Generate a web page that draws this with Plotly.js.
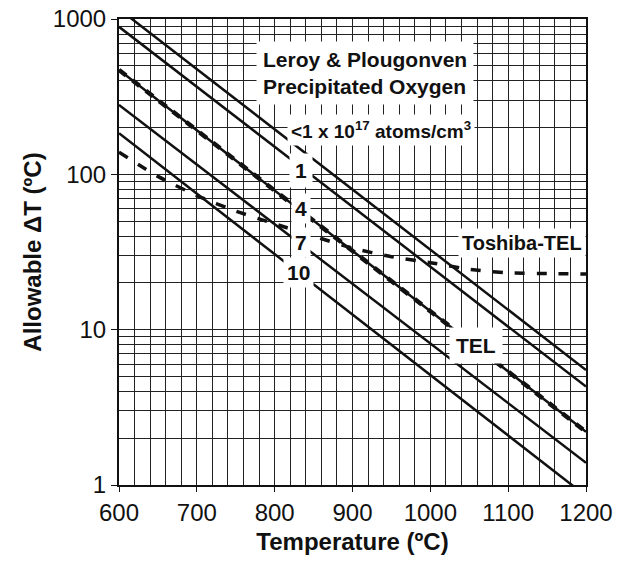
<!DOCTYPE html>
<html><head><meta charset="utf-8">
<script src="https://cdn.plot.ly/plotly-3.0.1.min.js"></script>
<style>html,body{margin:0;padding:0;background:#fff;} #chart{width:633px;height:563px;}</style>
</head><body><div id="chart"></div>
<script>
// ---- data ----
const temperature = [600, 1200];
const lpBelow1 = [1160, 5.5];   // <1 x 10^17 atoms/cm3
const lp1 = [890, 4.3];
const lp4 = [470, 2.2];
const lp7 = [280, 1.39];
const lp10 = [184, 0.85];
const telTemperature = [600, 1200];
const tel = [470, 2.2];
const toshibaTemperature = [600, 650, 700, 750, 800, 850, 900, 950, 1000, 1050, 1100, 1150, 1200];
const toshibaTel = [139, 97, 73, 58, 48, 40, 33.5, 29.5, 27, 24.5, 23.2, 23, 22.8];
const xTickVals = [600, 700, 800, 900, 1000, 1100, 1200];
const yTickVals = [1, 10, 100, 1000];
const yTickText = ['1', '10', '100', '1000'];
const yMinorVals = [2,3,4,5,6,7,8,9,20,30,40,50,60,70,80,90,200,300,400,500,600,700,800,900];

const FONT = 'Liberation Sans, Arial, Helvetica, sans-serif';
const INK = '#111';

function solid(x, y) {
  return {x: x, y: y, mode: 'lines', type: 'scatter', hoverinfo: 'skip',
          line: {color: INK, width: 2.5}, showlegend: false};
}
const traces = [
  solid(temperature, lpBelow1),
  solid(temperature, lp1),
  solid(temperature, lp4),
  solid(temperature, lp7),
  solid(temperature, lp10),
  {x: telTemperature, y: tel, mode: 'lines', type: 'scatter', hoverinfo: 'skip', showlegend: false,
   line: {color: INK, width: 4.5, dash: '9px,8px'}},
  {x: toshibaTemperature, y: toshibaTel, mode: 'lines', type: 'scatter', hoverinfo: 'skip', showlegend: false,
   line: {color: INK, width: 3.5, dash: '10px,12px', shape: 'spline', smoothing: 0.6}}
];

function label(text, x, y, size, extra) {
  return Object.assign({text: text, x: x, y: y, xref: 'x', yref: 'y', showarrow: false,
    font: {family: FONT, size: size, color: INK, weight: 'bold'},
    bgcolor: 'white', borderpad: 3}, extra || {});
}

const layout = {
  width: 633, height: 563,
  margin: {l: 119, r: 47, t: 19, b: 78},
  paper_bgcolor: 'white', plot_bgcolor: 'white',
  font: {family: FONT, color: INK},
  xaxis: {
    range: [600, 1200], tickmode: 'array', tickvals: xTickVals,
    ticks: 'outside', ticklen: 5, tickcolor: INK, tickwidth: 1,
    tickfont: {size: 24, family: FONT, color: INK},
    showgrid: true, gridcolor: '#222', gridwidth: 1,
    minor: {dtick: 20, showgrid: true, gridcolor: '#222', gridwidth: 1, ticks: ''},
    showline: true, linecolor: INK, linewidth: 2, mirror: true, zeroline: false,
    title: {text: 'Temperature (ºC)', font: {size: 24, family: FONT, color: INK, weight: 'bold'}, standoff: 8},
    automargin: false
  },
  yaxis: {
    type: 'log', range: [0, 3], tickmode: 'array', tickvals: yTickVals, ticktext: yTickText,
    ticks: 'outside', ticklen: 6, tickcolor: INK, tickwidth: 1,
    tickfont: {size: 24, family: FONT, color: INK},
    showgrid: true, gridcolor: '#222', gridwidth: 1,
    minor: {tickmode: 'array', tickvals: yMinorVals, showgrid: true, gridcolor: '#222', gridwidth: 1, ticks: ''},
    showline: true, linecolor: INK, linewidth: 2, mirror: true, zeroline: false,
    title: {text: 'Allowable ΔT (ºC)', font: {size: 24, family: FONT, color: INK, weight: 'bold'}, standoff: 4},
    automargin: false
  },
  annotations: [
    label('Leroy & Plougonven<br>Precipitated Oxygen', 776, 2.652, 21, {xanchor: 'left', align: 'left', borderpad: 6}),
    label('&lt;1 x 10<sup>17</sup> atoms/cm<sup>3</sup>', 936.6, 2.285, 19),
    label('1', 833.8, 2.0215, 21, {borderpad: 5}),
    label('4', 833.8, 1.783, 21),
    label('7', 833.8, 1.564, 21),
    label('10', 830, 1.365, 21),
    label('Toshiba-TEL', 1117.8, 1.558, 20),
    label('TEL', 1058.7, 0.895, 21, {borderpad: 6})
  ]
};

Plotly.newPlot('chart', traces, layout, {displayModeBar: false, staticPlot: true});
</script>
</body></html>
